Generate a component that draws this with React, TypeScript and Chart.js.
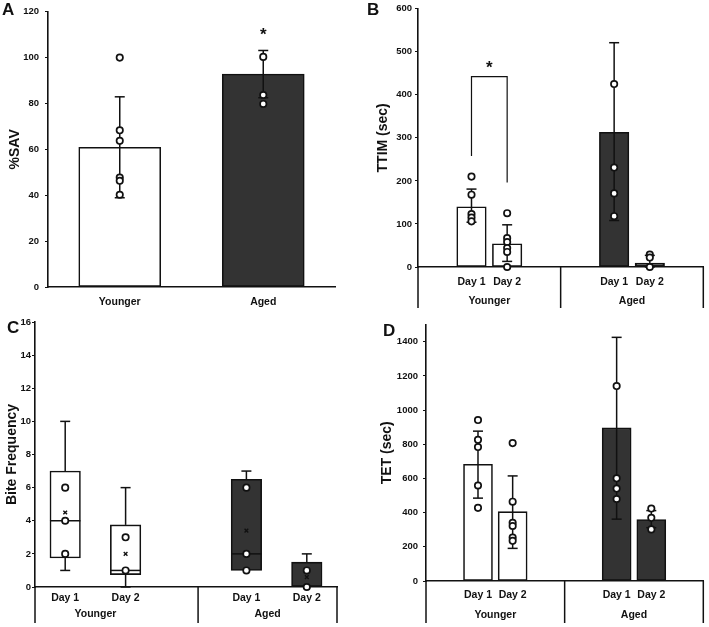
import React, { useEffect, useRef } from 'react';
import { Chart, registerables } from 'chart.js';

Chart.register(...registerables);

const FONT = "'Liberation Sans', Arial, Helvetica, sans-serif";
const INK = '#111111';
const DARK = '#333333';
const WHITE = '#ffffff';

// ---------------- Data ----------------
const GROUP_LABELS = ['Younger', 'Aged'];
const DAY_LABELS = ['Day 1', 'Day 2', 'Day 1', 'Day 2'];

// Panel A : %SAV
const SAV_CATEGORIES = ['Younger', 'Aged'];
const SAV_MEAN = [60.9, 92.8];
const SAV_ERR_LOW = [38.9, 82.5];
const SAV_ERR_HIGH = [82.9, 103.1];
const SAV_POINTS = [
  [100, 68.3, 63.7, 47.7, 46.3, 40.2],
  [100.3, 83.7, 79.8],
];
const SAV_STAR = 109.8;

// Panel B : TTIM (sec)
const TTIM_MEAN = [140, 54, 313, 9];
const TTIM_ERR_LOW = [104, 13, 108, 0];
const TTIM_ERR_HIGH = [181, 98, 521, 27];
const TTIM_POINTS = [
  [210, 168, 123, 115, 106],
  [125, 67, 58, 44, 35, 0],
  [425, 231, 171, 118],
  [29, 22, 0],
];
const TTIM_BRACKET = { from: 0, to: 1, yFrom: 258, yTop: 442, yTo: 196, star: 462 };

// Panel C : Bite Frequency (box plots)
const BITE_Q1 = [1.75, 0.75, 1, 0];
const BITE_Q3 = [7, 3.75, 6.5, 1.5];
const BITE_MEDIAN = [4, 1, 2, null];
const BITE_MIN = [1, 0, 1, 0];
const BITE_MAX = [10, 6, 7, 2];
const BITE_MEAN = [4.5, 2, 3.4, 0.6];
const BITE_POINTS = [
  [6, 4, 2],
  [3, 1],
  [6, 2, 1],
  [1, 0],
];

// Panel D : TET (sec)
const TET_MEAN = [683, 406, 896, 360];
const TET_ERR_LOW = [485, 191, 362, 312];
const TET_ERR_HIGH = [877, 615, 1426, 412];
const TET_POINTS = [
  [942, 826, 784, 559, 428],
  [807, 464, 341, 322, 254, 235],
  [1141, 601, 541, 480],
  [424, 370, 302],
];

// ---------------- Panel specs (layout / style) ----------------
type Spec = {
  letter: string;
  letterPos: [number, number];
  left: number; top: number; w: number; h: number;
  area: { left: number; right: number; top: number; bottom: number };
  yMin: number; yMax: number; yStep: number; yTitle: string; titlePad: number; yPad: number;
  includeBounds?: boolean;
  xMin: number; xMax: number; xPos: number[]; xLabels: string[]; xPad: number;
  barThickness: number;
  fills: string[];
  kind: 'mean' | 'box';
  mean?: number[]; errLow?: number[]; errHigh?: number[];
  q1?: number[]; q3?: number[]; median?: (number | null)[]; wMin?: number[]; wMax?: number[]; meanMark?: number[];
  points: number[][];
  groups?: { labels: string[]; pos: number[]; offset: number; dividers: number[]; divLen: number };
  stars?: { x: number; y: number }[];
  bracket?: typeof TTIM_BRACKET;
};

const SPECS: Spec[] = [
  {
    letter: 'A', letterPos: [2, 10],
    left: 0, top: 0, w: 345, h: 314,
    area: { left: 48, right: 335, top: 7, bottom: 287 },
    yMin: 0, yMax: 120, yStep: 20, yTitle: '%SAV', titlePad: 7, yPad: 6,
    xMin: 0, xMax: 2, xPos: [0.5, 1.5], xLabels: SAV_CATEGORIES, xPad: 9,
    barThickness: 82,
    fills: [WHITE, DARK],
    kind: 'mean', mean: SAV_MEAN, errLow: SAV_ERR_LOW, errHigh: SAV_ERR_HIGH,
    points: SAV_POINTS,
    stars: [{ x: 1.5, y: SAV_STAR }],
  },
  {
    letter: 'B', letterPos: [12, 10],
    left: 355, top: 0, w: 354, h: 314,
    area: { left: 63, right: 352, top: 7, bottom: 267 },
    yMin: 0, yMax: 600, yStep: 100, yTitle: 'TTIM (sec)', titlePad: 19.6, yPad: 3,
    xMin: 0, xMax: 8, xPos: [1.5, 2.5, 5.5, 6.5], xLabels: DAY_LABELS, xPad: 9,
    barThickness: 29.5,
    fills: [WHITE, WHITE, DARK, DARK],
    kind: 'mean', mean: TTIM_MEAN, errLow: TTIM_ERR_LOW, errHigh: TTIM_ERR_HIGH,
    points: TTIM_POINTS,
    groups: { labels: GROUP_LABELS, pos: [2, 6], offset: 34, dividers: [0, 4, 8], divLen: 41 },
    bracket: TTIM_BRACKET,
  },
  {
    letter: 'C', letterPos: [7, 14],
    left: 0, top: 314, w: 345, h: 313,
    area: { left: 35, right: 337, top: 8, bottom: 273 },
    yMin: 0, yMax: 16, yStep: 2, yTitle: 'Bite Frequency', titlePad: 3.6, yPad: 1,
    xMin: 0, xMax: 10, xPos: [1, 3, 7, 9], xLabels: DAY_LABELS, xPad: 5,
    barThickness: 30.5,
    fills: [WHITE, WHITE, DARK, DARK],
    kind: 'box', q1: BITE_Q1, q3: BITE_Q3, median: BITE_MEDIAN, wMin: BITE_MIN, wMax: BITE_MAX, meanMark: BITE_MEAN,
    points: BITE_POINTS,
    groups: { labels: GROUP_LABELS, pos: [2, 7.7], offset: 27, dividers: [0, 5.4, 10], divLen: 36 },
  },
  {
    letter: 'D', letterPos: [28, 17],
    left: 355, top: 314, w: 354, h: 313,
    area: { left: 71, right: 352, top: 8, bottom: 267 },
    yMin: 0, yMax: 1500, yStep: 200, yTitle: 'TET (sec)', titlePad: 23.6, yPad: 5, includeBounds: false,
    xMin: 0, xMax: 8, xPos: [1.5, 2.5, 5.5, 6.5], xLabels: DAY_LABELS, xPad: 8,
    barThickness: 29,
    fills: [WHITE, WHITE, DARK, DARK],
    kind: 'mean', mean: TET_MEAN, errLow: TET_ERR_LOW, errHigh: TET_ERR_HIGH,
    points: TET_POINTS,
    groups: { labels: GROUP_LABELS, pos: [2, 6], offset: 34, dividers: [0, 4, 8], divLen: 42 },
  },
];

function buildConfig(spec: Spec): any {
  const { area, w, h } = spec;
  const barData = spec.kind === 'box'
    ? spec.xPos.map((x, i) => ({ x, y: [spec.q1![i], spec.q3![i]] }))
    : spec.xPos.map((x, i) => ({ x, y: spec.mean![i] }));
  const pts: { x: number; y: number }[] = [];
  spec.points.forEach((arr, i) => arr.forEach((v) => pts.push({ x: spec.xPos[i], y: v })));

  const datasets: any[] = [
    {
      type: 'scatter', data: pts, pointStyle: 'circle', pointRadius: 3.2, pointBorderWidth: 1.7,
      pointBackgroundColor: WHITE, pointBorderColor: INK, clip: false, showLine: false,
    },
  ];
  if (spec.kind === 'box') {
    datasets.push({
      type: 'scatter', data: spec.xPos.map((x, i) => ({ x, y: spec.meanMark![i] })),
      pointStyle: 'crossRot', pointRadius: 2.6, pointBorderWidth: 1.4, pointBorderColor: INK,
      pointBackgroundColor: INK, clip: false, showLine: false,
    });
  }
  datasets.push({
    type: 'bar', data: barData, backgroundColor: spec.fills, borderColor: INK, borderWidth: 1.6,
    borderSkipped: false, barThickness: spec.barThickness,
  });
  const barIndex = datasets.length - 1;

  const line = (ctx: CanvasRenderingContext2D, x1: number, y1: number, x2: number, y2: number) => {
    ctx.beginPath(); ctx.moveTo(x1, y1); ctx.lineTo(x2, y2); ctx.stroke();
  };

  const overlay = {
    id: 'overlay-' + spec.letter,
    afterDatasetDraw(chart: any, args: any) {
      if (args.index !== barIndex) return;
      const ctx: CanvasRenderingContext2D = chart.ctx;
      const xs = chart.scales.x; const ys = chart.scales.y;
      const meta = chart.getDatasetMeta(barIndex);
      ctx.save();
      ctx.strokeStyle = INK; ctx.lineWidth = 1.5;
      const cap = 5;
      spec.xPos.forEach((xv, i) => {
        const px = xs.getPixelForValue(xv);
        if (spec.kind === 'mean') {
          const lo = ys.getPixelForValue(spec.errLow![i]);
          const hi = ys.getPixelForValue(spec.errHigh![i]);
          line(ctx, px, lo, px, hi);
          line(ctx, px - cap, lo, px + cap, lo);
          line(ctx, px - cap, hi, px + cap, hi);
        } else {
          const q1 = ys.getPixelForValue(spec.q1![i]);
          const q3 = ys.getPixelForValue(spec.q3![i]);
          const mx = ys.getPixelForValue(spec.wMax![i]);
          const mn = ys.getPixelForValue(spec.wMin![i]);
          if (spec.wMax![i] > spec.q3![i]) { line(ctx, px, q3, px, mx); line(ctx, px - cap, mx, px + cap, mx); }
          if (spec.wMin![i] < spec.q1![i]) { line(ctx, px, q1, px, mn); line(ctx, px - cap, mn, px + cap, mn); }
          const med = spec.median![i];
          if (med !== null && med !== undefined) {
            const el = meta.data[i];
            const half = el.width / 2;
            const my = ys.getPixelForValue(med);
            line(ctx, px - half, my, px + half, my);
          }
        }
      });
      ctx.restore();
    },
    afterDraw(chart: any) {
      const ctx: CanvasRenderingContext2D = chart.ctx;
      const xs = chart.scales.x; const ys = chart.scales.y;
      const bottom = chart.chartArea.bottom;
      ctx.save();
      ctx.strokeStyle = INK; ctx.fillStyle = INK;
      // group dividers and labels
      if (spec.groups) {
        ctx.lineWidth = 1.5;
        spec.groups.dividers.forEach((d) => {
          const px = xs.getPixelForValue(d);
          line(ctx, px, bottom, px, bottom + spec.groups!.divLen);
        });
        ctx.font = `bold 10.5px ${FONT}`;
        ctx.textAlign = 'center'; ctx.textBaseline = 'middle';
        spec.groups.labels.forEach((t, i) => {
          ctx.fillText(t, xs.getPixelForValue(spec.groups!.pos[i]), bottom + spec.groups!.offset);
        });
      }
      // significance bracket
      ctx.font = `bold 17px ${FONT}`;
      ctx.textAlign = 'center'; ctx.textBaseline = 'alphabetic';
      if (spec.bracket) {
        const b = spec.bracket;
        const x1 = xs.getPixelForValue(spec.xPos[b.from]);
        const x2 = xs.getPixelForValue(spec.xPos[b.to]);
        ctx.lineWidth = 1.2;
        ctx.beginPath();
        ctx.moveTo(x1, ys.getPixelForValue(b.yFrom));
        ctx.lineTo(x1, ys.getPixelForValue(b.yTop));
        ctx.lineTo(x2, ys.getPixelForValue(b.yTop));
        ctx.lineTo(x2, ys.getPixelForValue(b.yTo));
        ctx.stroke();
        ctx.fillText('*', (x1 + x2) / 2, ys.getPixelForValue(b.star) + 5);
      }
      (spec.stars || []).forEach((s) => {
        ctx.fillText('*', xs.getPixelForValue(s.x), ys.getPixelForValue(s.y) + 5);
      });
      // panel letter
      ctx.font = `bold 17px ${FONT}`;
      ctx.textAlign = 'left'; ctx.textBaseline = 'middle';
      ctx.fillText(spec.letter, spec.letterPos[0], spec.letterPos[1]);
      ctx.restore();
    },
  };

  return {
    type: 'bar',
    data: { datasets },
    plugins: [overlay],
    options: {
      responsive: false,
      animation: false,
      devicePixelRatio: 1,
      layout: { padding: { left: 0, top: area.top, right: w - area.right, bottom: 0 } },
      plugins: { legend: { display: false }, tooltip: { enabled: false } },
      scales: {
        x: {
          type: 'linear', min: spec.xMin, max: spec.xMax, offset: false,
          afterBuildTicks: (s: any) => { s.ticks = spec.xPos.map((v) => ({ value: v })); },
          afterFit: (s: any) => { s.height = h - area.bottom; },
          grid: { display: false, drawTicks: false },
          border: { display: true, color: INK, width: 1.6 },
          ticks: {
            autoSkip: false, maxRotation: 0, minRotation: 0, padding: spec.xPad, color: INK,
            font: { family: FONT, size: 10.5, weight: 'bold' },
            callback: (_v: any, i: number) => spec.xLabels[i],
          },
        },
        y: {
          type: 'linear', min: spec.yMin, max: spec.yMax,
          afterFit: (s: any) => { s.width = area.left; },
          ticks: {
            stepSize: spec.yStep, includeBounds: spec.includeBounds !== false, padding: spec.yPad, color: INK,
            font: { family: FONT, size: 9.5, weight: 'bold' },
            callback: (v: any) => String(v),
          },
          grid: { display: true, drawOnChartArea: false, drawTicks: true, tickLength: 3, color: INK, lineWidth: 1 },
          border: { display: true, color: INK, width: 1.6 },
          title: {
            display: true, text: spec.yTitle, color: INK,
            font: { family: FONT, size: 14, weight: 'bold' },
            padding: { top: spec.titlePad, bottom: 0 },
          },
        },
      },
    },
  };
}

function Panel({ spec }: { spec: Spec }) {
  const ref = useRef<HTMLCanvasElement>(null);
  useEffect(() => {
    const chart = new Chart(ref.current as HTMLCanvasElement, buildConfig(spec));
    return () => chart.destroy();
  }, [spec]);
  return (
    <canvas
      ref={ref}
      width={spec.w}
      height={spec.h}
      style={{ position: 'absolute', left: spec.left, top: spec.top, width: spec.w, height: spec.h }}
    />
  );
}

export default function App() {
  return (
    <div style={{ position: 'absolute', left: 0, top: 0, width: 709, height: 627, background: '#ffffff', overflow: 'hidden' }}>
      {SPECS.map((s) => (
        <Panel key={s.letter} spec={s} />
      ))}
    </div>
  );
}
